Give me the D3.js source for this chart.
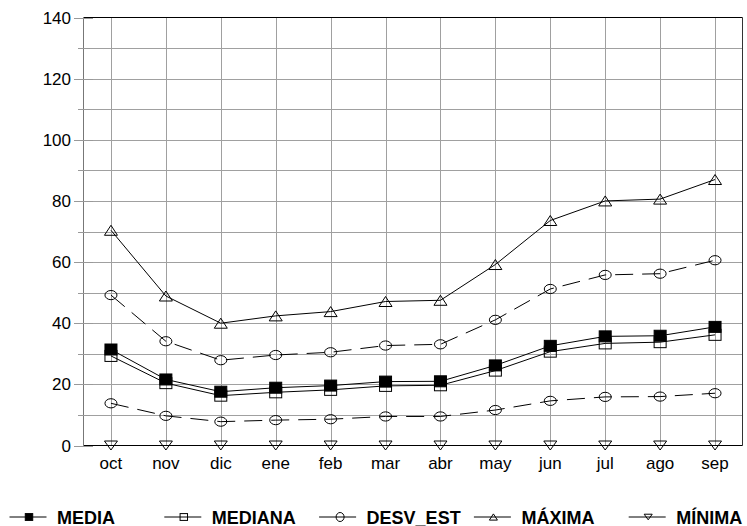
<!DOCTYPE html>
<html>
<head>
<meta charset="utf-8">
<script src="https://cdn.jsdelivr.net/npm/d3@7"></script>
<style>
  html, body { margin: 0; padding: 0; background: #fff; }
  svg { display: block; }
  text { font-family: "Liberation Sans", Arial, sans-serif; }
</style>
</head>
<body>
<script>
const months = ["oct","nov","dic","ene","feb","mar","abr","may","jun","jul","ago","sep"];
const media   = [31.4, 21.6, 17.6, 18.9, 19.6, 20.9, 21.0, 26.2, 32.6, 35.7, 35.9, 38.8];
const mediana = [29.3, 20.4, 16.3, 17.4, 18.2, 19.5, 19.7, 24.5, 30.7, 33.4, 33.8, 36.2];
const desvSup = [49.2, 34.1, 27.9, 29.6, 30.5, 32.7, 33.1, 41.1, 51.2, 55.8, 56.2, 60.6];
const desvInf = [13.8, 9.7, 7.8, 8.3, 8.6, 9.5, 9.5, 11.6, 14.6, 15.9, 16.0, 17.1];
const maxima  = [70.4, 48.9, 40.0, 42.4, 43.8, 47.1, 47.5, 59.2, 73.6, 80.0, 80.6, 87.0];
const minima  = [0, 0, 0, 0, 0, 0, 0, 0, 0, 0, 0, 0];
const yTicks  = [0, 20, 40, 60, 80, 100, 120, 140];
const legendLabels = ["MEDIA", "MEDIANA", "DESV_EST", "MÁXIMA", "MÍNIMA"];

const W = 747, H = 526;
const L = 83.5, R = 742.5, T = 17.5, B = 445.5;

const svg = d3.select("body").append("svg").attr("width", W).attr("height", H);

const x = d3.scalePoint().domain(months).range([L, R]).padding(0.5);
const y = d3.scaleLinear().domain([0, 140]).range([B, T]);

const grid = "#a0a0a0";

// horizontal gridlines (major + minor)
const hLines = d3.range(10, 140, 10);
svg.append("g").selectAll("line").data(hLines).join("line")
  .attr("x1", L).attr("x2", R)
  .attr("y1", d => Math.round(y(d)) + 0.5).attr("y2", d => Math.round(y(d)) + 0.5)
  .attr("stroke", grid).attr("stroke-width", 1);

// vertical gridlines
svg.append("g").selectAll("line").data(months).join("line")
  .attr("x1", d => Math.round(x(d)) + 0.5).attr("x2", d => Math.round(x(d)) + 0.5)
  .attr("y1", T).attr("y2", B)
  .attr("stroke", grid).attr("stroke-width", 1);

// frame
svg.append("line").attr("x1", L).attr("x2", R).attr("y1", T).attr("y2", T).attr("stroke", "#000");
svg.append("line").attr("x1", R).attr("x2", R).attr("y1", T).attr("y2", B).attr("stroke", "#333");
svg.append("line").attr("x1", L).attr("x2", R).attr("y1", B).attr("y2", B).attr("stroke", "#000");
svg.append("line").attr("x1", L).attr("x2", L).attr("y1", T).attr("y2", B).attr("stroke", "#777");

// y ticks
const ticksAll = d3.range(0, 150, 10);
svg.append("g").selectAll("line").data(ticksAll).join("line")
  .attr("x1", d => d % 20 === 0 ? 74 : 78)
  .attr("x2", d => d % 20 === 0 ? 93 : 90)
  .attr("y1", d => Math.round(y(d)) + 0.5).attr("y2", d => Math.round(y(d)) + 0.5)
  .attr("stroke", "#999");

// y labels
svg.append("g").selectAll("text").data(yTicks).join("text")
  .attr("x", 71).attr("y", d => y(d)).attr("dy", "0.36em")
  .attr("text-anchor", "end").attr("font-size", 17).attr("fill", "#000")
  .text(d => d);

// x labels
svg.append("g").selectAll("text").data(months).join("text")
  .attr("x", d => x(d)).attr("y", 469)
  .attr("text-anchor", "middle").attr("font-size", 17).attr("fill", "#000")
  .text(d => d);

// symbols
function drawMarker(g, type, cx, cy, s) {
  s = s || 1;
  if (type === "sqFill") {
    g.append("rect").attr("x", cx - 6 * s).attr("y", cy - 5.5 * s).attr("width", 12 * s).attr("height", 11 * s)
      .attr("fill", "#000").attr("stroke", "#000");
  } else if (type === "sqOpen") {
    g.append("rect").attr("x", cx - 6 * s).attr("y", cy - 5.5 * s).attr("width", 12 * s).attr("height", 11 * s)
      .attr("fill", "none").attr("stroke", "#000");
  } else if (type === "ellipse") {
    g.append("ellipse").attr("cx", cx).attr("cy", cy).attr("rx", 6 * s).attr("ry", 4.6 * s)
      .attr("fill", "none").attr("stroke", "#000");
  } else if (type === "triUp") {
    g.append("path").attr("d", `M${cx},${cy - 5 * s}L${cx + 6.5 * s},${cy + 5 * s}L${cx - 6.5 * s},${cy + 5 * s}Z`)
      .attr("fill", "none").attr("stroke", "#000");
  } else if (type === "triDown") {
    g.append("path").attr("d", `M${cx - 6.5 * s},${cy - 4.5 * s}L${cx + 6.5 * s},${cy - 4.5 * s}L${cx},${cy + 4.5 * s}Z`)
      .attr("fill", "none").attr("stroke", "#000");
  }
}

const series = [
  { vals: media,   marker: "sqFill",  dash: null },
  { vals: mediana, marker: "sqOpen",  dash: null },
  { vals: desvSup, marker: "ellipse", dash: "18,9" },
  { vals: desvInf, marker: "ellipse", dash: "18,9" },
  { vals: maxima,  marker: "triUp",   dash: null },
  { vals: minima,  marker: "triDown", dash: null }
];

const line = d3.line().x((d, i) => x(months[i])).y(d => y(d));

series.forEach(s => {
  const g = svg.append("g");
  if (s.marker !== "triDown") {
    g.append("path").datum(s.vals).attr("d", line)
      .attr("fill", "none").attr("stroke", "#000").attr("stroke-width", 1)
      .attr("stroke-dasharray", s.dash);
  }
  s.vals.forEach((v, i) => drawMarker(g, s.marker, x(months[i]), y(v)));
});

// legend
const legTypes = ["sqFill", "sqOpen", "ellipse", "triUp", "triDown"];
const legY = 517;
legendLabels.forEach((lab, i) => {
  const x0 = 9.5 + i * 154.8;
  const g = svg.append("g");
  g.append("line").attr("x1", x0).attr("x2", x0 + 37).attr("y1", legY).attr("y2", legY).attr("stroke", "#000");
  const mx = (i === 2) ? x0 + 21 : x0 + 19.5;
  if (i === 2) {
    g.append("ellipse").attr("cx", mx).attr("cy", legY).attr("rx", 4).attr("ry", 4.5).attr("fill", "#fff").attr("stroke", "#000");
    g.append("line").attr("x1", mx - 4).attr("x2", mx + 4).attr("y1", legY).attr("y2", legY).attr("stroke", "#000");
  } else {
    drawMarker(g, legTypes[i], mx, legY, 0.62);
  }
  g.append("text").attr("x", x0 + 47.5).attr("y", 523.5)
    .attr("font-size", 18).attr("font-weight", "bold").attr("fill", "#000")
    .text(lab);
});
</script>
</body>
</html>
